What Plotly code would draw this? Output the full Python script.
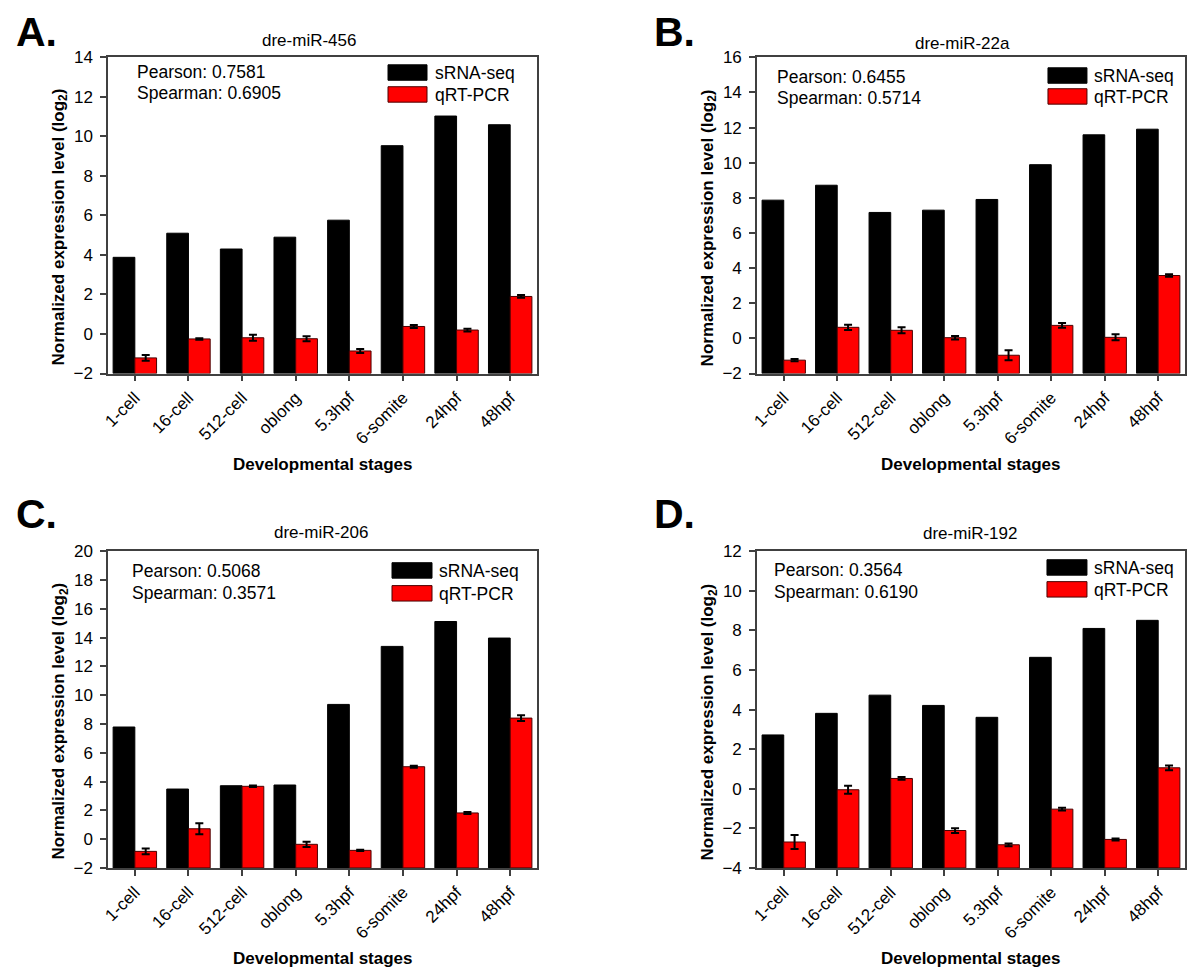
import plotly.graph_objects as go

# ---------------- data ----------------
stages = ["1-cell", "16-cell", "512-cell", "oblong", "5.3hpf", "6-somite", "24hpf", "48hpf"]

mir456_seq = [3.88, 5.10, 4.30, 4.90, 5.76, 9.53, 11.03, 10.59]
mir456_pcr = [-1.21, -0.25, -0.19, -0.24, -0.86, 0.38, 0.20, 1.90]
mir456_err = [0.15, 0.04, 0.15, 0.13, 0.10, 0.08, 0.07, 0.07]

mir22a_seq = [7.87, 8.72, 7.17, 7.30, 7.91, 9.89, 11.59, 11.91]
mir22a_pcr = [-1.24, 0.63, 0.46, 0.04, -0.96, 0.74, 0.06, 3.58]
mir22a_err = [0.06, 0.15, 0.17, 0.10, 0.28, 0.13, 0.17, 0.07]

mir206_seq = [7.79, 3.48, 3.71, 3.76, 9.36, 13.39, 15.12, 13.97]
mir206_pcr = [-0.85, 0.72, 3.67, -0.36, -0.78, 5.03, 1.82, 8.41]
mir206_err = [0.20, 0.38, 0.05, 0.18, 0.05, 0.07, 0.07, 0.20]

mir192_seq = [2.72, 3.81, 4.73, 4.21, 3.61, 6.64, 8.10, 8.51]
mir192_pcr = [-2.69, -0.05, 0.52, -2.11, -2.83, -1.03, -2.56, 1.06]
mir192_err = [0.35, 0.20, 0.07, 0.12, 0.07, 0.07, 0.05, 0.12]

panel_letters = ["A.", "B.", "C.", "D."]
panel_titles = ["dre-miR-456", "dre-miR-22a", "dre-miR-206", "dre-miR-192"]
pearson = ["0.7581", "0.6455", "0.5068", "0.3564"]
spearman = ["0.6905", "0.5714", "0.3571", "0.6190"]
y_ranges = [(-2, 14), (-2, 16), (-2, 20), (-4, 12)]
series_names = ["sRNA-seq", "qRT-PCR"]

seq_sets = [mir456_seq, mir22a_seq, mir206_seq, mir192_seq]
pcr_sets = [mir456_pcr, mir22a_pcr, mir206_pcr, mir192_pcr]
err_sets = [mir456_err, mir22a_err, mir206_err, mir192_err]

# ---------------- layout geometry ----------------
PAGE_MARGIN = 8
W, H = 1200 - 2 * PAGE_MARGIN, 978 - 2 * PAGE_MARGIN
FONT = "Arial, Liberation Sans, sans-serif"

# screen calibration (measured): shown = off + scale * requested
CAL_X = (6.0, 0.995)
CAL_Y = (7.1, 0.9844)


def px(x):
    xs = (x - CAL_X[0]) / CAL_X[1]
    return max(0.0, min(1.0, (xs - PAGE_MARGIN) / W))


def py(y):
    ys = (y - CAL_Y[0]) / CAL_Y[1]
    return max(0.0, min(1.0, 1 - (ys - PAGE_MARGIN) / H))


# target screen positions (pixels in the 1200x978 picture)
areas = [(108, 537, 55.5, 373), (757, 1185, 55.5, 373),
         (108, 537, 551.5, 869.5), (757, 1185, 551.5, 869.5)]
letter_pos = [(5, 47), (652, 47), (7, 531), (652, 531)]
title_pos = [(309, 39), (963, 42), (321, 533), (970, 534)]
corr_pos = [(135, 70, 91), (775, 75, 96.5), (130, 571, 593), (772, 570, 592)]
legend_pos = [(388, 427, 63, 85, 433), (1048, 1087, 66, 87, 1092),
              (392, 432, 563, 586, 437), (1047, 1087, 560, 582, 1092)]

BLACK = "#000000"
RED = "#ff0000"
RED_EDGE = "#4a0000"
AXIS = "#404040"

fig = go.Figure()
annotations = []
shapes = []

for i in range(4):
    n = "" if i == 0 else str(i + 1)
    xa, ya = "x" + n, "y" + n
    ymin, ymax = y_ranges[i]
    seq = seq_sets[i]
    pcr = pcr_sets[i]
    err = err_sets[i]

    fig.add_trace(go.Bar(
        x=stages, y=[v - ymin for v in seq], base=ymin,
        name=series_names[0], marker=dict(color=BLACK, line=dict(color=BLACK, width=1)),
        xaxis=xa, yaxis=ya, showlegend=False,
        customdata=seq, hovertemplate="%{x}: %{customdata}<extra>sRNA-seq</extra>",
    ))
    fig.add_trace(go.Bar(
        x=stages, y=[v - ymin for v in pcr], base=ymin,
        name=series_names[1], marker=dict(color=RED, line=dict(color=RED_EDGE, width=1)),
        error_y=dict(type="data", array=err, visible=True, color=BLACK, thickness=2, width=4),
        xaxis=xa, yaxis=ya, showlegend=False,
        customdata=pcr, hovertemplate="%{x}: %{customdata}<extra>qRT-PCR</extra>",
    ))

    l, r, t, b = areas[i]
    axis_common = dict(showline=True, linecolor=AXIS, linewidth=1.5, mirror=True,
                       ticks="outside", ticklen=6, tickwidth=1.5, tickcolor=AXIS,
                       showgrid=False, zeroline=False,
                       tickfont=dict(family=FONT, size=17, color="#000000"))
    fig.layout["xaxis" + n] = dict(axis_common, domain=[px(l), px(r)], anchor=ya,
                                   tickangle=-45, range=[-0.5, 7.5], type="category")
    fig.layout["yaxis" + n] = dict(axis_common, domain=[py(b), py(t)], anchor=xa,
                                   range=[ymin, ymax], dtick=2, tick0=0, ticklabelstandoff=4)

    lx, lyb = letter_pos[i]
    annotations.append(dict(text="<b>%s</b>" % panel_letters[i], x=px(lx), y=py(lyb + 8),
                            xref="paper", yref="paper", xanchor="left", yanchor="bottom",
                            showarrow=False, font=dict(family=FONT, size=41, color="#000000")))
    tx, ty = title_pos[i]
    annotations.append(dict(text=panel_titles[i], x=px(tx), y=py(ty), xref="paper", yref="paper",
                            xanchor="center", yanchor="middle", showarrow=False,
                            font=dict(family=FONT, size=17, color="#000000")))
    cx, cy1, cy2 = corr_pos[i]
    annotations.append(dict(text="Pearson: " + pearson[i], x=px(cx), y=py(cy1), xref="paper",
                            yref="paper", xanchor="left", yanchor="middle", showarrow=False,
                            font=dict(family=FONT, size=17.5, color="#000000")))
    annotations.append(dict(text="Spearman: " + spearman[i], x=px(cx), y=py(cy2), xref="paper",
                            yref="paper", xanchor="left", yanchor="middle", showarrow=False,
                            font=dict(family=FONT, size=17.5, color="#000000")))
    bx0, bx1, by0, ry0, ltx = legend_pos[i]
    shapes.append(dict(type="rect", xref="paper", yref="paper", x0=px(bx0), x1=px(bx1),
                       y0=py(by0), y1=py(by0 + 15.5), fillcolor=BLACK,
                       line=dict(color=BLACK, width=1)))
    shapes.append(dict(type="rect", xref="paper", yref="paper", x0=px(bx0), x1=px(bx1),
                       y0=py(ry0), y1=py(ry0 + 15.5), fillcolor=RED,
                       line=dict(color=RED_EDGE, width=1)))
    annotations.append(dict(text=series_names[0], x=px(ltx), y=py(by0 + 8), xref="paper",
                            yref="paper", xanchor="left", yanchor="middle", showarrow=False,
                            font=dict(family=FONT, size=17.5, color="#000000")))
    annotations.append(dict(text=series_names[1], x=px(ltx), y=py(ry0 + 8), xref="paper",
                            yref="paper", xanchor="left", yanchor="middle", showarrow=False,
                            font=dict(family=FONT, size=17.5, color="#000000")))
    annotations.append(dict(text="<b>Normalized expression level (log<sub>2</sub>)</b>",
                            x=px(l - 48), y=py((t + b) / 2 + 12), xref="paper", yref="paper",
                            xanchor="center", yanchor="middle", textangle=-90, showarrow=False,
                            font=dict(family=FONT, size=17, color="#000000")))
    annotations.append(dict(text="<b>Developmental stages</b>",
                            x=px((l + r) / 2), y=py(b + 91), xref="paper", yref="paper",
                            xanchor="center", yanchor="middle", showarrow=False,
                            font=dict(family=FONT, size=17, color="#000000")))

fig.update_layout(
    width=W, height=H, autosize=False,
    margin=dict(l=0, r=0, t=0, b=0),
    paper_bgcolor="white", plot_bgcolor="white",
    barmode="group", bargap=0.19, bargroupgap=0,
    annotations=annotations, shapes=shapes,
    font=dict(family=FONT, size=17, color="#000000"),
)

fig.write_html("out.html")
